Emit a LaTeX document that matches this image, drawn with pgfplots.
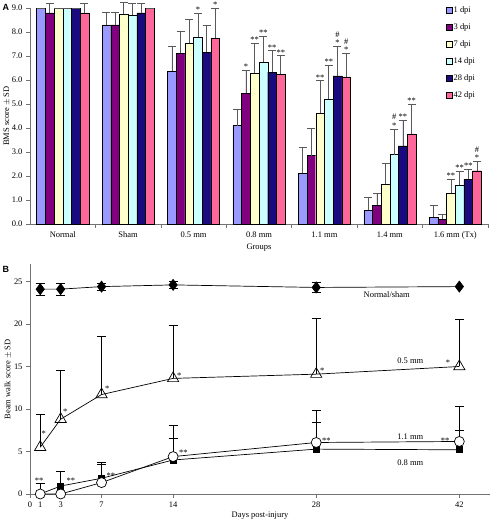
\documentclass[border=0pt]{standalone}
\usepackage{pgfplots}
\pgfplotsset{compat=1.18}
\usepackage{pgfplotstable}
\usepackage{fontspec}
\setmainfont{Liberation Serif}
\newfontfamily\panelfont{Liberation Sans}

\definecolor{cA}{HTML}{9999FF}
\definecolor{cB}{HTML}{800080}
\definecolor{cC}{HTML}{FFFFCC}
\definecolor{cD}{HTML}{CCFFFF}
\definecolor{cE}{HTML}{1A0A80}
\definecolor{cF}{HTML}{FF6699}

\newcommand\hs{\shortstack{\#\\**}}
\newcommand\tfont{\fontsize{8.5}{10}\selectfont}

% Panel A data: x group, v mean, e SD (plus), lab annotation
\pgfplotstableread{
x v e lab
0 9.00 0 {}
1 8.30 0.52 {}
2 6.37 1.05 {}
3 4.10 0.70 {}
4 2.11 1.10 {}
5 0.58 0.52 {}
6 0.28 0.50 {}
}\dA
\pgfplotstableread{
x v e lab
0 8.80 0.40 {}
1 8.30 0.52 {}
2 7.11 0.93 {}
3 5.44 0.98 *
4 2.85 1.14 {}
5 0.78 0.50 {}
6 0.19 0.21 {}
}\dB
\pgfplotstableread{
x v e lab
0 9.00 0 {}
1 8.75 0.50 {}
2 7.53 1.00 {}
3 6.28 1.25 **
4 4.61 1.36 **
5 1.65 0.86 {}
6 1.28 0.60 **
}\dC
\pgfplotstableread{
x v e lab
0 9.00 0 {}
1 8.70 0.50 {}
2 7.80 0.98 *
3 6.75 1.08 **
4 5.22 1.39 **
5 2.89 1.07 \hs
6 1.61 0.57 **
}\dD
\pgfplotstableread{
x v e lab
0 9.00 0 {}
1 8.80 0.40 {}
2 7.15 1.15 {}
3 6.33 0.89 **
4 6.17 1.22 \hs
5 3.25 1.06 **
6 1.86 0.43 **
}\dE
\pgfplotstableread{
x v e lab
0 8.80 0.40 {}
1 9.00 0 {}
2 7.75 1.24 *
3 6.24 0.77 **
4 6.13 0.98 \hs
5 3.75 1.24 **
6 2.22 0.38 \hs
}\dF

% Panel B data
\pgfplotstableread{
d v e
1 24.1 0.7
3 24.1 0.7
7 24.4 0.4
14 24.6 0.4
28 24.3 0.6
42 24.4 0
}\bNorm
\pgfplotstableread{
d v e
1 5.5 3.9
3 8.8 5.7
7 11.7 6.9
14 13.6 6.3
28 14.1 6.6
42 15.0 5.6
}\bHalf
\pgfplotstableread{
d v e
1 0.0 0
3 0.94 1.74
7 1.85 1.89
14 4.0 2.54
28 5.28 3.12
42 5.2 2.3
}\bEight
\pgfplotstableread{
d v e
1 0.0 1.26
3 0.0 0
7 1.34 2.2
14 4.4 3.67
28 6.06 3.84
42 6.18 4.12
}\bEleven

\pgfplotsset{
  barA/.style={ybar, bar width=8.7bp, bar shift=0pt, draw=black, line width=0.4pt,
    error bars/y dir=plus, error bars/y explicit,
    error bars/error bar style={line width=0.6pt, draw=black!65},
    error bars/error mark options={rotate=90, mark size=4bp, line width=0.6pt, draw=black!65}},
  annA/.style={draw=none, mark=none, forget plot,
    nodes near coords, point meta=explicit symbolic,
    every node near coord/.style={font=\tfont, inner sep=0pt, anchor=south, yshift=0.5bp}},
  errB/.style={error bars/y dir=#1, error bars/y explicit,
    error bars/error bar style={line width=0.6pt},
    error bars/error mark options={rotate=90, mark size=4.5bp, line width=0.6pt}},
}

\begin{document}
\begin{tikzpicture}
\path[use as bounding box] (0,0) rectangle (491bp,523bp);

% ---------------- Panel A ----------------
\begin{axis}[
  at={(30bp,299bp)}, anchor=south west,
  scale only axis, width=458bp, height=216bp,
  xmin=-0.5, xmax=6.5, ymin=0, ymax=9,
  clip=false,
  axis x line*=bottom, axis y line*=left,
  axis line style={black!55, line width=0.6pt},
  tick align=outside,
  xtick={0,...,6},
  xticklabels={Normal, Sham, 0.5 mm, 0.8 mm, 1.1 mm, 1.4 mm, 1.6 mm (Tx)},
  major x tick style={draw=none},
  minor xtick={0.5,1.5,...,6.5},
  minor tick length=4bp, major tick length=4bp,
  tick style={black!55, line width=0.6pt},
  ytick={0,1,...,9},
  yticklabel style={/pgf/number format/fixed, /pgf/number format/fixed zerofill, /pgf/number format/precision=1},
  /pgf/number format/assume math mode=true,
  ticklabel style={font=\tfont},
  label style={font=\tfont},
  xlabel={Groups}, ylabel={BMS score $\pm$ SD},
  xlabel style={yshift=2bp},
  ylabel style={yshift=-5bp},
  legend style={at={(0.908,1.012)}, anchor=north west, draw=none, fill=none,
    font=\tfont, row sep=7.2bp, inner sep=0pt, nodes={inner sep=1.2pt}},
  legend cell align=left,
  legend image code/.code={\draw[#1, draw=black, line width=0.4pt] (0bp,-3bp) rectangle (6bp,3bp);},
]
\addplot[fill=cA, barA] table[x expr=\thisrow{x}-0.3325, y=v, y error=e] {\dA};
\addplot[fill=cB, barA] table[x expr=\thisrow{x}-0.1995, y=v, y error=e] {\dB};
\addplot[fill=cC, barA] table[x expr=\thisrow{x}-0.0665, y=v, y error=e] {\dC};
\addplot[fill=cD, barA] table[x expr=\thisrow{x}+0.0665, y=v, y error=e] {\dD};
\addplot[fill=cE, barA] table[x expr=\thisrow{x}+0.1995, y=v, y error=e] {\dE};
\addplot[fill=cF, barA] table[x expr=\thisrow{x}+0.3325, y=v, y error=e] {\dF};
\legend{1 dpi, 3 dpi, 7 dpi, 14 dpi, 28 dpi, 42 dpi}
\addplot[annA] table[x expr=\thisrow{x}-0.3325, y expr=\thisrow{v}+\thisrow{e}, meta=lab] {\dA};
\addplot[annA] table[x expr=\thisrow{x}-0.1995, y expr=\thisrow{v}+\thisrow{e}, meta=lab] {\dB};
\addplot[annA] table[x expr=\thisrow{x}-0.0665, y expr=\thisrow{v}+\thisrow{e}, meta=lab] {\dC};
\addplot[annA] table[x expr=\thisrow{x}+0.0665, y expr=\thisrow{v}+\thisrow{e}, meta=lab] {\dD};
\addplot[annA] table[x expr=\thisrow{x}+0.1995, y expr=\thisrow{v}+\thisrow{e}, meta=lab] {\dE};
\addplot[annA] table[x expr=\thisrow{x}+0.3325, y expr=\thisrow{v}+\thisrow{e}, meta=lab] {\dF};
\end{axis}

% ---------------- Panel B ----------------
\begin{axis}[
  at={(30bp,29bp)}, anchor=south west,
  scale only axis, width=460bp, height=229.5bp,
  xmin=0, xmax=45, ymin=0, ymax=27,
  clip=false,
  axis x line*=bottom, axis y line*=left,
  axis line style={black!55, line width=0.6pt},
  tick align=outside,
  major tick length=4bp,
  tick style={black!55, line width=0.6pt},
  xtick={0,1,3,7,14,28,42},
  ytick={0,5,...,25},
  /pgf/number format/assume math mode=true,
  ticklabel style={font=\tfont},
  label style={font=\tfont},
  xlabel={Days post-injury}, ylabel={Beam walk score $\pm$ SD},
  xlabel style={yshift=2bp},
  ylabel style={yshift=-4bp},
]
\addplot[black, line width=0.7pt, mark=diamond*, mark size=5.5bp, mark options={fill=black}, errB=both]
  table[x=d, y=v, y error=e] {\bNorm};
\addplot[black, line width=0.7pt, mark=triangle, mark size=6.5bp, mark options={fill=white}, errB=plus]
  table[x=d, y=v, y error=e] {\bHalf};
\addplot[black, line width=0.7pt, mark=square*, mark size=3bp, mark options={fill=black}, errB=plus]
  table[x=d, y=v, y error=e] {\bEight};
\addplot[black, line width=0.7pt, mark=*, mark size=5bp, mark options={fill=white}, errB=plus]
  table[x=d, y=v, y error=e] {\bEleven};

\begin{scope}[every node/.style={font=\tfont, inner sep=0pt}]
\node at (axis cs:34.9,23.5) {Normal/sham};
\node at (axis cs:37.2,15.7) {0.5 mm};
\node at (axis cs:37.2,6.7) {1.1 mm};
\node at (axis cs:37.2,3.7) {0.8 mm};
\node at (axis cs:1.35,7.1) {*};
\node at (axis cs:3.45,9.7) {*};
\node at (axis cs:7.55,12.4) {*};
\node at (axis cs:14.6,13.9) {*};
\node at (axis cs:28.6,14.5) {*};
\node at (axis cs:40.9,15.5) {*};
\node at (axis cs:0.9,1.6) {**};
\node at (axis cs:4.0,1.6) {**};
\node at (axis cs:7.9,2.2) {**};
\node at (axis cs:15.0,4.8) {**};
\node at (axis cs:29.0,6.3) {**};
\node at (axis cs:40.6,6.3) {**};
\end{scope}
\end{axis}

\node[anchor=north west, inner sep=0pt, font=\panelfont\bfseries\fontsize{9}{10}\selectfont] at (2.5bp,518.5bp) {A};
\node[anchor=north west, inner sep=0pt, font=\panelfont\bfseries\fontsize{9}{10}\selectfont] at (2.5bp,257bp) {B};
\end{tikzpicture}
\end{document}
